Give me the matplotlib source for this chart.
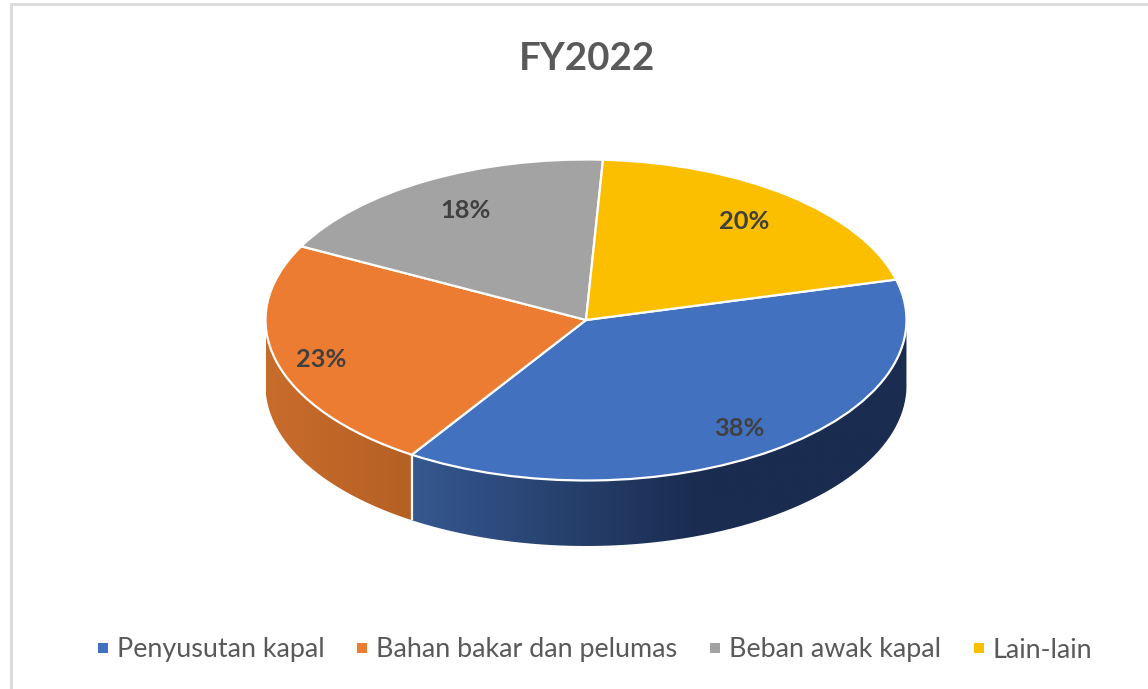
import numpy as np
import matplotlib
matplotlib.use("Agg")
import matplotlib.pyplot as plt
from matplotlib.lines import Line2D
from matplotlib.patches import PathPatch
from matplotlib.path import Path
from matplotlib.colors import LinearSegmentedColormap

plt.rcParams['font.family'] = ['Lato', 'DejaVu Sans']

title = "FY2022"
categories = ["Penyusutan kapal", "Bahan bakar dan pelumas", "Beban awak kapal", "Lain-lain"]
values = [38.2, 23.45, 18.25, 20.1]
colors = ["#4271C0", "#EB7C31", "#A3A3A3", "#FBBF00"]
side_colors = [[(0, "#35588F"), (0.58, "#1A2C50"), (1, "#1A2C50")],
               [(0, "#C86C2B"), (1, "#B56024")],
               [(0, "#8A8A8A"), (1, "#8A8A8A")],
               [(0, "#D9A300"), (1, "#D9A300")]]
label_px = [(739, 427), (321, 358), (465, 209), (744, 220)]

W, H = 1148, 689
CX, CY, RX, RY, DEPTH = 586, 320, 320.5, 160.5, 65.5
START = 14.6

fig = plt.figure(figsize=(W / 100, H / 100), dpi=100)
ax = fig.add_axes([0, 0, 1, 1])
wedges, _ = ax.pie(values, colors=colors, startangle=START, counterclock=False,
                   wedgeprops=dict(edgecolor="white", linewidth=1.6, zorder=5))
xlim = ((0 - CX) / RX, (W - CX) / RX)
ylim = ((CY - H) / RY, CY / RY)
d = DEPTH / RY

# Cylinder wall under the pie
ang = START
for v, stops in zip(values, side_colors):
    a1 = ang
    a0 = ang - v / sum(values) * 360
    ang = a0
    lo, hi = max(a0, -180), min(a1, 0)
    if hi <= lo:
        continue
    t = np.radians(np.linspace(lo, hi, 200))
    xs, ys = np.cos(t), np.sin(t)
    verts = np.r_[np.c_[xs, ys], np.c_[xs, ys - d][::-1], [[xs[0], ys[0]]]]
    clip = PathPatch(Path(verts), facecolor="none", edgecolor="none", transform=ax.transData)
    ax.add_patch(clip)
    cmap = LinearSegmentedColormap.from_list("s", stops)
    im = ax.imshow(np.linspace(0, 1, 256)[None, :], cmap=cmap, aspect="auto",
                   extent=(xs.min(), xs.max(), ys.min() - d, ys.max()), zorder=2)
    im.set_clip_path(clip)
    if lo > -180:
        ax.plot([xs[0], xs[0]], [ys[0], ys[0] - d], color="white", lw=1.6, zorder=3,
                solid_capstyle="butt")

ax.set_aspect("auto")
ax.set_xlim(*xlim)
ax.set_ylim(*ylim)
ax.set_position([0, 0, 1, 1])
ax.axis("off")

# Chart frame
for xs_, ys_ in [((11, 11), (H, 3.5)), ((11, W), (3.5, 3.5))]:
    fig.add_artist(Line2D(np.array(xs_) / W, 1 - np.array(ys_) / H, color="#DCDCDC", lw=2.2,
                          transform=fig.transFigure))

fig.text(586.5 / W, 1 - 59 / H, title, ha="center", va="center", fontsize=27.7, fontweight="bold", color="#595959")

for v, (px, py) in zip(values, label_px):
    fig.text(px / W, 1 - (py + 1.5) / H, f"{v:.0f}%", ha="center", va="center", fontsize=18.3,
             fontweight="bold", color="#404040")

handles = [Line2D([], [], linestyle="none", marker="s", markersize=7, color=c, markeredgewidth=0) for c in colors]
fig.legend(handles, categories, loc="center", bbox_to_anchor=(593.5 / W, 1 - 650 / H), ncol=4, frameon=False,
           fontsize=19.35, labelcolor="#595959", handlelength=0.6, handletextpad=0.2, columnspacing=1.12,
           borderpad=0, borderaxespad=0)

fig.savefig("out.png", dpi=100)
